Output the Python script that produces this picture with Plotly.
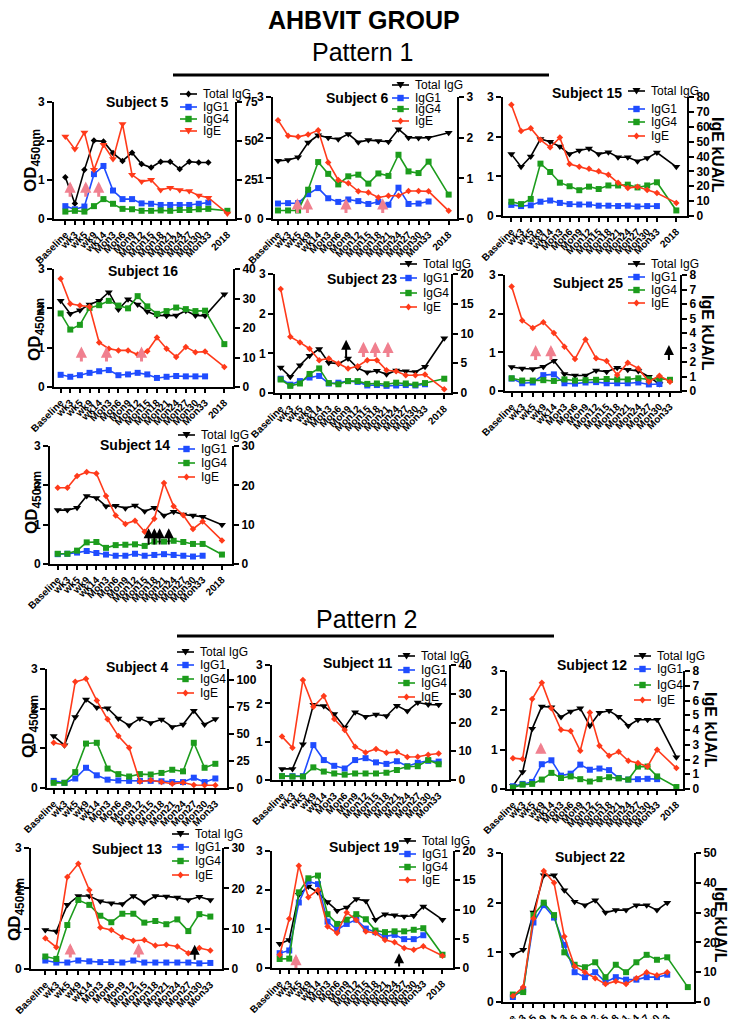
import plotly.graph_objects as go

W, H = 729, 1019
FONT = "Liberation Sans, Arial, sans-serif"

CATS = ["Baseline", "wk3", "wk5", "wk9", "wk14", "Mon3", "Mon6", "Mon9", "Mon12",
        "Mon15", "Mon18", "Mon21", "Mon24", "Mon27", "Mon30", "Mon33"]
CAT_2018 = "2018"
SERIES = ["Total IgG", "IgG1", "IgG4", "IgE"]

# ---------------- data (OD450nm for IgG series, kUA/L for IgE) ----------------
s5_total = [1.07, 0.40, 1.26, 2.01, 1.99, 1.69, 1.49, 1.70, 1.41, 1.32, 1.47, 1.47, 1.28, 1.47, 1.45, 1.45, None]
s5_igg1 = [0.33, 0.25, 0.32, 1.15, 1.36, 0.73, 0.51, 0.51, 0.40, 0.39, 0.36, 0.36, 0.36, 0.36, 0.39, 0.42, None]
s5_igg4 = [0.19, 0.21, 0.19, 0.33, 0.51, 0.39, 0.26, 0.25, 0.21, 0.21, 0.22, 0.21, 0.23, 0.23, 0.25, 0.26, 0.21]
s5_ige = [52.9, 44.8, 55.5, 31.5, 47.6, 38.4, 60.9, 28.3, 24.0, 25.1, 18.6, 20.1, 18.6, 18.0, 15.0, 13.7, 3.6]

s6_total = [1.43, 1.45, 1.52, 1.88, 2.06, 2.00, 1.96, 2.09, 1.89, 1.94, 1.92, 1.90, 2.21, 2.00, 1.99, 2.00, 2.12]
s6_igg1 = [0.38, 0.39, 0.39, 0.61, 0.76, 0.51, 0.42, 0.48, 0.44, 0.37, 0.42, 0.35, 0.77, 0.37, 0.38, 0.43, None]
s6_igg4 = [0.21, 0.21, 0.21, 0.72, 1.40, 1.11, 0.85, 1.05, 1.09, 0.87, 1.12, 1.06, 1.58, 1.17, 1.13, 1.41, 0.60]
s6_ige = [2.43, 2.05, 2.02, 2.08, 2.18, 1.39, 0.96, 0.88, 0.68, 0.65, 0.53, 0.57, 0.57, 0.69, 0.69, 0.68, 0.20]

s15_total = [1.56, 1.24, 1.50, 1.94, 1.87, 1.75, 1.56, 1.65, 1.70, 1.56, 1.61, 1.48, 1.48, 1.38, 1.46, 1.60, 1.24]
s15_igg1 = [0.28, 0.25, 0.27, 0.36, 0.39, 0.33, 0.30, 0.29, 0.29, 0.26, 0.26, 0.25, 0.26, 0.24, 0.25, 0.25, None]
s15_igg4 = [0.36, 0.30, 0.43, 1.32, 1.11, 0.84, 0.75, 0.65, 0.74, 0.68, 0.77, 0.77, 0.79, 0.72, 0.77, 0.85, 0.14]
s15_ige = [74.8, 57.2, 59.0, 51.2, 46.2, 52.7, 34.9, 33.1, 31.8, 30.0, 27.7, 22.3, 18.9, 19.6, 17.4, 15.5, 8.8]

s16_total = [2.19, 1.86, 1.95, 2.10, 2.19, 2.41, 1.97, 2.23, 2.10, 1.92, 1.82, 1.81, 1.82, 1.94, 1.82, 1.81, 2.36]
s16_igg1 = [0.31, 0.26, 0.30, 0.36, 0.40, 0.43, 0.30, 0.32, 0.36, 0.32, 0.23, 0.26, 0.28, 0.27, 0.27, 0.27, None]
s16_igg4 = [1.87, 1.46, 1.58, 2.01, 2.08, 2.19, 2.07, 2.00, 2.31, 2.05, 1.86, 1.93, 2.02, 1.98, 1.93, 1.94, 1.09]
s16_ige = [36.7, 28.2, 27.6, 27.2, 15.1, 13.0, 12.4, 12.4, 11.0, 12.1, 16.8, 13.0, 10.2, 13.6, 11.8, 12.0, 6.8]

s23_total = [0.64, 0.41, 0.70, 0.94, 1.11, 0.76, 0.74, 0.87, 0.63, 0.52, 0.56, 0.47, 0.57, 0.55, 0.53, 0.66, 1.38]
s23_igg1 = [0.36, 0.21, 0.30, 0.39, 0.43, 0.24, 0.26, 0.30, 0.28, 0.19, 0.20, 0.18, 0.19, 0.20, 0.19, 0.22, None]
s23_igg4 = [0.34, 0.18, 0.24, 0.48, 0.62, 0.25, 0.22, 0.30, 0.30, 0.23, 0.24, 0.22, 0.26, 0.24, 0.21, 0.25, 0.36]
s23_ige = [17.5, 9.46, 8.5, 7.44, 5.52, 5.8, 4.96, 4.11, 4.51, 5.52, 5.52, 3.83, 3.66, 2.99, 2.99, 3.1, 0.62]

s25_total = [0.62, 0.58, 0.57, 0.63, 0.78, 0.44, 0.40, 0.40, 0.53, 0.50, 0.60, 0.55, 0.52, 0.37, 0.18, None]
s25_igg1 = [0.32, 0.20, 0.22, 0.41, 0.43, 0.20, 0.19, 0.22, 0.23, 0.20, 0.20, 0.20, 0.22, 0.17, 0.18, None]
s25_igg4 = [0.33, 0.27, 0.27, 0.28, 0.26, 0.30, 0.27, 0.28, 0.29, 0.31, 0.30, 0.30, 0.33, 0.30, 0.32, 0.29]
s25_ige = [7.2, 4.87, 4.34, 4.74, 4.0, 3.06, 2.2, 3.56, 2.25, 2.07, 1.1, 1.95, 1.56, 0.64, 1.06, 0.64]

s14_total = [1.37, 1.37, 1.43, 1.73, 1.68, 1.47, 1.48, 1.42, 1.49, 1.34, 1.43, 1.23, 1.33, 1.26, 1.23, 1.20, 1.00]
s14_igg1 = [0.25, 0.26, 0.29, 0.33, 0.28, 0.24, 0.21, 0.21, 0.26, 0.21, 0.23, 0.25, 0.23, 0.21, 0.19, 0.21, None]
s14_igg4 = [0.26, 0.26, 0.34, 0.55, 0.56, 0.41, 0.48, 0.49, 0.50, 0.46, 0.57, 0.57, 0.59, 0.56, 0.51, 0.51, 0.24]
s14_ige = [19.4, 19.4, 22.4, 23.4, 23.0, 17.3, 12.3, 10.2, 11.0, 8.2, 11.5, 20.6, 14.7, 12.4, 8.9, 10.8, 6.0]

s4_total = [1.31, 1.08, 1.79, 2.23, 2.03, 2.01, 1.75, 1.58, 1.75, 1.64, 1.73, 1.54, 1.60, 1.95, 1.60, 1.74]
s4_igg1 = [0.18, 0.13, 0.24, 0.51, 0.32, 0.21, 0.19, 0.18, 0.18, 0.18, 0.17, 0.15, 0.15, 0.26, 0.15, 0.24]
s4_igg4 = [0.13, 0.13, 0.40, 1.12, 1.14, 0.49, 0.35, 0.29, 0.35, 0.34, 0.38, 0.46, 0.42, 1.14, 0.51, 0.61]
s4_ige = [41.8, 39.6, 98.1, 100.9, 80.8, 63.5, 48.0, 37.2, 5.9, 7.1, 5.6, 4.0, 5.0, 2.8, 2.5, 2.5]

s11_total = [0.29, 0.29, 0.93, 1.96, 1.93, 1.72, 1.37, 1.77, 1.65, 1.71, 1.67, 1.94, 1.80, 2.02, 1.97, 1.96]
s11_igg1 = [0.10, 0.10, 0.10, 0.91, 0.52, 0.37, 0.30, 0.52, 0.57, 0.46, 0.42, 0.49, 0.36, 0.45, 0.50, 0.48]
s11_igg4 = [0.10, 0.09, 0.09, 0.33, 0.22, 0.17, 0.14, 0.17, 0.17, 0.17, 0.19, 0.26, 0.35, 0.36, 0.52, 0.41]
s11_ige = [15.1, 11.2, 34.8, 25.5, 29.2, 21.2, 17.4, 11.6, 9.6, 10.8, 9.5, 9.7, 8.0, 8.1, 8.8, 9.2]

s12_total = [0.08, 0.43, 1.53, 2.10, 2.08, 1.83, 1.97, 2.05, 1.61, 1.94, 1.99, 1.84, 1.61, 1.76, 1.76, 1.76, 0.81]
s12_igg1 = [0.07, 0.13, 0.18, 0.63, 0.73, 0.34, 0.39, 0.62, 0.49, 0.52, 0.48, 0.28, 0.24, 0.25, 0.26, 0.25, None]
s12_igg4 = [0.04, 0.11, 0.13, 0.24, 0.41, 0.28, 0.32, 0.25, 0.19, 0.25, 0.30, 0.27, 0.24, 0.57, 0.57, 0.32, 0.05]
s12_ige = [2.09, 2.03, 6.10, 7.21, 5.47, 4.01, 3.94, 2.59, 5.18, 2.93, 2.25, 2.52, 1.91, 1.76, 1.53, 2.66, 1.42]

s13_total = [0.97, 0.93, 1.59, 1.81, 1.81, 1.68, 1.63, 1.61, 1.81, 1.65, 1.81, 1.80, 1.77, 1.71, 1.79, 1.71]
s13_igg1 = [0.21, 0.16, 0.16, 0.21, 0.19, 0.17, 0.17, 0.16, 0.21, 0.16, 0.16, 0.16, 0.16, 0.16, 0.14, 0.15]
s13_igg4 = [0.31, 0.25, 1.09, 1.71, 1.59, 1.32, 1.16, 1.37, 1.37, 1.15, 1.19, 1.11, 1.23, 0.94, 1.36, 1.30]
s13_ige = [7.6, 5.4, 22.8, 26.1, 19.6, 10.3, 9.7, 7.9, 7.0, 7.2, 5.8, 6.0, 5.6, 3.9, 5.2, 4.6]

s19_total = [0.62, 0.72, 1.88, 2.09, 1.94, 1.69, 1.47, 1.55, 1.77, 1.72, 1.24, 1.38, 1.35, 1.32, 1.34, 1.58, 1.24]
s19_igg1 = [0.38, 0.45, 1.68, 2.22, 2.15, 1.19, 0.98, 1.13, 1.24, 1.01, 0.92, 0.81, 0.85, 0.74, 0.74, 0.84, None]
s19_igg4 = [0.23, 0.24, 1.94, 2.30, 2.37, 1.38, 1.13, 1.24, 1.38, 1.25, 0.96, 0.92, 0.94, 0.94, 0.98, 1.02, 0.34]
s19_ige = [2.27, 8.4, 17.5, 12.1, 13.35, 7.1, 5.97, 9.5, 8.2, 6.25, 5.97, 4.8, 4.4, 3.4, 3.1, 3.7, 2.1]

s22_total = [0.95, 1.05, 1.80, 2.55, 2.55, 2.25, 2.02, 1.95, 2.05, 1.80, 1.85, 1.85, 1.95, 1.95, 1.85, 2.00, None]
s22_igg1 = [0.10, 0.25, 1.60, 1.95, 1.70, 1.15, 0.60, 0.50, 0.60, 0.40, 0.50, 0.45, 0.45, 0.50, 0.50, 0.55, None]
s22_igg4 = [0.15, 0.20, 1.75, 2.00, 1.75, 1.00, 0.75, 0.70, 0.80, 0.50, 0.75, 0.60, 0.80, 0.95, 0.85, 0.90, 0.30]
s22_ige = [2, 5, 28, 44, 40, 22, 12, 10, 8, 6, 7, 6, 8, 10, 9, 10, None]

# vaccination / event arrows: (category position, tail OD, head OD)
s5_pink = [(0.5, 0.53, 0.96), (2.14, 0.53, 0.96), (3.5, 0.53, 0.96)]
s6_pink = [(1.93, 0.11, 0.51), (2.93, 0.11, 0.51), (6.77, 0.11, 0.51), (10.43, 0.11, 0.51)]
s16_pink = [(2.15, 0.61, 1.03), (4.76, 0.61, 1.03), (8.4, 0.61, 1.03)]
s23_pink = [(8.6, 0.87, 1.29), (9.83, 0.87, 1.29), (11.15, 0.87, 1.29)]
s23_black = [(6.8, 0.87, 1.34)]
s25_pink = [(2.27, 0.76, 1.19), (3.72, 0.76, 1.19)]
s25_black = [(14.9, 0.76, 1.19)]
s14_black = [(9.41, 0.46, 0.91), (10.0, 0.46, 0.91), (10.55, 0.46, 0.91), (11.49, 0.46, 0.91)]
s12_pink = [(2.9, 0.87, 1.18)]
s13_pink = [(2.27, 0.25, 0.64), (8.48, 0.25, 0.64)]
s13_black = [(13.58, 0.19, 0.60)]
s19_pink = [(1.7, -0.04, 0.36)]
s19_black = [(12.47, 0.0, 0.38)]

COLORS = {"Total IgG": "#000000", "IgG1": "#1f4cff", "IgG4": "#1c9c1c", "IgE": "#ff3a1a"}
PINK = "#f0808f"

PANELS = [
    dict(title="Subject 5", data=(s5_total, s5_igg1, s5_igg4, s5_ige), box=(54, 235, 102, 219),
         xr=[-1.19, 17.8], rmax=75, rticks=[0, 25, 50, 75], tpos=(137, 102),
         leg=(180, [94, 107, 119, 131]), alt=True, pink=s5_pink, black=[], od=(32, 160)),
    dict(title="Subject 6", data=(s6_total, s6_igg1, s6_igg4, s6_ige), box=(273, 457, 97, 219),
         xr=[-0.5, 17.83], rmax=3, rticks=[0, 1, 2, 3], tpos=(357, 98),
         leg=(392, [85, 98, 109, 121]), pink=s6_pink, black=[]),
    dict(title="Subject 15", data=(s15_total, s15_igg1, s15_igg4, s15_ige), box=(503, 687, 97, 216),
         xr=[-0.86, 18.1], rmax=80, rticks=list(range(0, 81, 10)), tpos=(587, 93),
         leg=(628, [91, 109, 122, 136]), pink=[], black=[], ige=(718, 155)),
    dict(title="Subject 16", data=(s16_total, s16_igg1, s16_igg4, s16_ige), box=(54, 233, 269, 387),
         xr=[-0.69, 17.9], rmax=40, rticks=[0, 10, 20, 30, 40], tpos=(143, 271),
         leg=None, pink=s16_pink, black=[], od=(36, 330)),
    dict(title="Subject 23", data=(s23_total, s23_igg1, s23_igg4, s23_ige), box=(275, 451, 274, 393),
         xr=[-0.59, 17.7], rmax=20, rticks=[0, 5, 10, 15, 20], tpos=(362, 279),
         leg=(400, [264, 278, 293, 307]), pink=s23_pink, black=s23_black),
    dict(title="Subject 25", data=(s25_total, s25_igg1, s25_igg4, s25_ige), box=(505, 680, 275, 391),
         xr=[-0.63, 15.95], rmax=8, rticks=list(range(0, 9)), tpos=(588, 283),
         leg=(628, [264, 277, 290, 303]), pink=s25_pink, black=s25_black, ige=(708, 333)),
    dict(title="Subject 14", data=(s14_total, s14_igg1, s14_igg4, s14_ige), box=(50, 232, 446, 564),
         xr=[-0.8, 18.04], rmax=30, rticks=[0, 10, 20, 30], tpos=(135, 445),
         leg=(178, [435, 449, 463, 477]), pink=[], black=s14_black, od=(33, 503)),
    dict(title="Subject 4", data=(s4_total, s4_igg1, s4_igg4, s4_ige), box=(47, 227, 669, 788),
         xr=[-0.62, 16.08], rmax=110, rticks=[0, 25, 50, 75, 100], tpos=(137, 667),
         leg=(177, [652, 665, 679, 693]), pink=[], black=[], od=(30, 727)),
    dict(title="Subject 11", data=(s11_total, s11_igg1, s11_igg4, s11_ige), box=(272, 449, 665, 780),
         xr=[-0.96, 15.99], rmax=40, rticks=[0, 10, 20, 30, 40], tpos=(357, 663),
         leg=(398, [656, 670, 683, 697]), pink=[], black=[]),
    dict(title="Subject 12", data=(s12_total, s12_igg1, s12_igg4, s12_ige), box=(507, 683, 671, 789),
         xr=[-0.62, 17.69], rmax=8, rticks=list(range(0, 9)), tpos=(592, 665),
         leg=(634, [656, 669, 685, 700]), pink=s12_pink, black=[], ige=(711, 730)),
    dict(title="Subject 13", data=(s13_total, s13_igg1, s13_igg4, s13_ige), box=(31, 222, 848, 969),
         xr=[-1.3, 16.06], rmax=30, rticks=[0, 10, 20, 30], tpos=(127, 849),
         leg=(172, [834, 847, 861, 875]), pink=s13_pink, black=s13_black, od=(16, 910)),
    dict(title="Subject 19", data=(s19_total, s19_igg1, s19_igg4, s19_ige), box=(272, 453, 851, 968),
         xr=[-0.8, 18.1], rmax=20, rticks=[0, 5, 10, 15, 20], tpos=(364, 847),
         leg=(399, [841, 854, 867, 880]), pink=s19_pink, black=s19_black),
    dict(title="Subject 22", data=(s22_total, s22_igg1, s22_igg4, s22_ige), box=(503, 694, 853, 1002),
         xr=[-0.96, 17.6], rmax=50, rticks=[0, 10, 20, 30, 40, 50], tpos=(590, 857),
         leg=None, pink=[], black=[], ige=(721, 925), no2018label=True),
]


def fx(x):
    return x / W


def fy(y):
    return 1 - y / H


def positions(n):
    # 16 timepoints, then a gap of one slot before the 2018 sample
    return list(range(len(CATS))) + ([len(CATS) + 1] if n > len(CATS) else [])


fig = go.Figure()
layout = {}
shapes = []
annots = []

axis_common = dict(showline=True, linecolor="black", linewidth=2, ticks="outside", ticklen=5,
                   tickwidth=2, tickcolor="black", showgrid=False, zeroline=False,
                   automargin=False, fixedrange=True,
                   tickfont=dict(family=FONT, size=12, color="black", weight="bold"))


def marker_shape(symbol, cx, cy, color):
    if symbol == "square":
        return dict(type="rect", xref="paper", yref="paper", x0=fx(cx - 3.2), x1=fx(cx + 3.2),
                    y0=fy(cy + 3.2), y1=fy(cy - 3.2), fillcolor=color, line=dict(width=0))
    if symbol == "triangle-down":
        pts = [(cx - 4, cy - 3), (cx + 4, cy - 3), (cx, cy + 3.5)]
    else:
        pts = [(cx, cy - 3.5), (cx + 3, cy), (cx, cy + 3.5), (cx - 3, cy)]
    path = "M " + " L ".join(f"{fx(a):.5f},{fy(b):.5f}" for a, b in pts) + " Z"
    return dict(type="path", xref="paper", yref="paper", path=path, fillcolor=color,
                line=dict(width=0))


def text_annot(text, x, y, size, xanchor="center", angle=0):
    return dict(text=text, x=fx(x), y=fy(y), xref="paper", yref="paper", showarrow=False,
                xanchor=xanchor, yanchor="middle", textangle=angle,
                font=dict(family=FONT, size=size, color="black"))


for i, p in enumerate(PANELS, start=1):
    xname = "xaxis" if i == 1 else f"xaxis{i}"
    xref = "x" if i == 1 else f"x{i}"
    ly, ry = 2 * i - 1, 2 * i
    lname = "yaxis" if ly == 1 else f"yaxis{ly}"
    lref = "y" if ly == 1 else f"y{ly}"
    rname, rref = f"yaxis{ry}", f"y{ry}"
    L, R, T, B = p["box"]

    n_all = max(len(s) for s in p["data"])
    if n_all > len(CATS) and not p.get("no2018label"):
        labels = list(CATS) + [CAT_2018]
    else:
        labels = list(CATS)
    tv = positions(len(labels))

    xa = dict(axis_common)
    xa.update(domain=[fx(L), fx(R)], anchor=lref, range=p["xr"], tickvals=tv, ticktext=labels,
              tickangle=-45, tickfont=dict(family=FONT, size=10, color="black", weight="bold"),
              ticklen=4)
    layout[xname] = xa
    ya = dict(axis_common)
    ya.update(domain=[fy(B), fy(T)], anchor=xref, range=[0, 3], tickvals=[0, 1, 2, 3])
    layout[lname] = ya
    yb = dict(axis_common)
    yb.update(anchor=xref, overlaying=lref, side="right", range=[0, p["rmax"]], tickvals=p["rticks"])
    layout[rname] = yb

    alt = p.get("alt", False)
    symbols = {"Total IgG": "diamond" if alt else "triangle-down", "IgG1": "square",
               "IgG4": "square", "IgE": "triangle-down" if alt else "diamond"}
    sizes = {"Total IgG": 5 if alt else 7, "IgG1": 6, "IgG4": 6, "IgE": 7 if alt else 5}
    for name, vals in zip(SERIES, p["data"]):
        fig.add_trace(go.Scatter(
            x=positions(len(vals)), y=vals, mode="lines+markers", name=name,
            xaxis=xref, yaxis=rref if name == "IgE" else lref, showlegend=False,
            cliponaxis=False,
            line=dict(color=COLORS[name], width=1.6),
            marker=dict(symbol=symbols[name], size=sizes[name], color=COLORS[name])))

    annots.append(text_annot(f"<b>{p['title']}</b>", p["tpos"][0], p["tpos"][1], 14))

    if p["leg"]:
        x0, ys = p["leg"]
        for name, yy in zip(SERIES, ys):
            shapes.append(dict(type="line", xref="paper", yref="paper", x0=fx(x0), x1=fx(x0 + 17),
                               y0=fy(yy), y1=fy(yy), line=dict(color=COLORS[name], width=1.6)))
            shapes.append(marker_shape(symbols[name], x0 + 8.5, yy, COLORS[name]))
            annots.append(text_annot(name, x0 + 21, yy, 12, xanchor="left"))

    for arr, col, wd, sz in ((p["pink"], PINK, 3, 0.75), (p["black"], "black", 2, 1.0)):
        for xa_, tail, head in arr:
            annots.append(dict(x=xa_, y=head, ax=xa_, ay=tail, xref=xref, yref=lref,
                               axref=xref, ayref=lref, text="", showarrow=True, arrowhead=2,
                               arrowsize=sz, arrowwidth=wd, arrowcolor=col,
                               standoff=0, startstandoff=0))

    if "od" in p:
        annots.append(text_annot("<b>OD<sub>450nm</sub></b>", p["od"][0], p["od"][1], 17, angle=-90))
    if "ige" in p:
        annots.append(text_annot("<b>IgE kUA/L</b>", p["ige"][0], p["ige"][1], 16, angle=90))

# headings
annots.append(text_annot("<b>AHBVIT GROUP</b>", 364, 20, 25))
annots.append(text_annot("Pattern 1", 362, 52, 25))
annots.append(text_annot("Pattern 2", 366, 619, 25))
shapes.append(dict(type="line", xref="paper", yref="paper", x0=fx(173), x1=fx(549),
                   y0=fy(75), y1=fy(75), line=dict(color="black", width=3)))
shapes.append(dict(type="line", xref="paper", yref="paper", x0=fx(177), x1=fx(554),
                   y0=fy(636), y1=fy(636), line=dict(color="black", width=3)))

fig.update_layout(template="none", width=W, height=H, margin=dict(l=0, r=0, t=0, b=0, pad=0),
                  paper_bgcolor="white", plot_bgcolor="white", showlegend=False,
                  font=dict(family=FONT, color="black"),
                  shapes=shapes, annotations=annots, **layout)

fig.write_html("out.html", config={"displayModeBar": False},
               post_script="document.body.style.margin='0px';document.body.style.overflow='hidden';")
